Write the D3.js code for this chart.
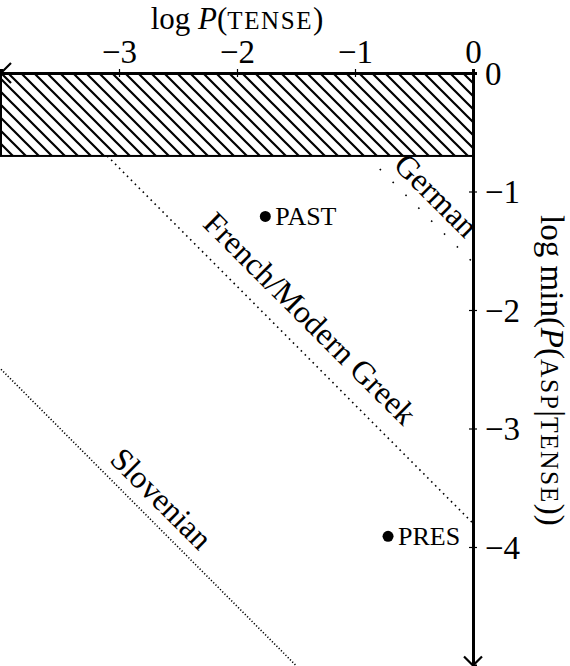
<!DOCTYPE html>
<html>
<head>
<meta charset="utf-8">
<script src="https://cdn.jsdelivr.net/npm/d3@7"></script>
<style>
  html, body { margin: 0; padding: 0; background: #fff; }
  svg { display: block; }
  text { font-family: "Liberation Serif", "DejaVu Serif", serif; fill: #000; }
</style>
</head>
<body>
<svg id="chart" width="570" height="666"></svg>
<script>
// ---- data ----
const xTicks = [-3, -2, -1, 0];
const yTicks = [0, -1, -2, -3, -4];
const xDomain = [-4, 0];
const yDomain = [0, -5];

// excluded (hatched) region
const hatchX = [-4, 0];
const hatchY = [-0.7, 0];

// points
const pointNames = ["PAST", "PRES"];
const pointX = [-1.76, -0.72];
const pointY = [-1.21, -3.91];

// iso-lines: log P(tense) + log min P(asp|tense) = c
const langNames = ["German", "French/Modern Greek", "Slovenian"];
const langConst = [-1.6, -3.8, -6.5];
const langStartX = [-0.79, -3.1, -4];
const langEndX = [0, 0, -1.5];
const langLabelX = [-0.31, -1.38, -2.64];
const langLabelY = [-1.03, -2.07, -3.59];

// ---- scales ----
const svg = d3.select("#chart");
const x = d3.scaleLinear().domain(xDomain).range([1, 473]);
const y = d3.scaleLinear().domain(yDomain).range([73, 665.5]);
const fmt = d3.format("d");

// hatch pattern
const defs = svg.append("defs");
const pat = defs.append("pattern")
  .attr("id", "hatch").attr("patternUnits", "userSpaceOnUse")
  .attr("width", 13).attr("height", 13);
pat.append("path")
  .attr("d", "M-3,-3 L16,16 M-3,10 L3,16 M10,-3 L16,3")
  .attr("stroke", "#000").attr("stroke-width", 2.2);

svg.append("rect")
  .attr("x", x(hatchX[0])).attr("y", y(hatchY[1]))
  .attr("width", x(hatchX[1]) - x(hatchX[0]))
  .attr("height", y(hatchY[0]) - y(hatchY[1]))
  .attr("fill", "url(#hatch)")
  .attr("stroke", "#000").attr("stroke-width", 2);

// iso lines
const dashes = ["1.6,16.6", "1.6,4", "1.2,2"];
langNames.forEach((name, i) => {
  svg.append("line")
    .attr("x1", x(langStartX[i])).attr("y1", y(langConst[i] - langStartX[i]))
    .attr("x2", x(langEndX[i])).attr("y2", y(langConst[i] - langEndX[i]))
    .attr("stroke", "#000").attr("stroke-width", 1.6)
    .attr("stroke-dasharray", dashes[i]);
  svg.append("text")
    .attr("transform", `translate(${x(langLabelX[i])},${y(langLabelY[i])}) rotate(45)`)
    .attr("text-anchor", "middle")
    .attr("dominant-baseline", "central")
    .attr("font-size", 32)
    .text(name);
});

// points
pointNames.forEach((name, i) => {
  svg.append("circle")
    .attr("cx", x(pointX[i])).attr("cy", y(pointY[i])).attr("r", 5.5)
    .attr("fill", "#000");
  svg.append("text")
    .attr("x", x(pointX[i]) + 10).attr("y", y(pointY[i]) + 8.5)
    .attr("font-size", 26)
    .text(name);
});

// axes
const xAxis = svg.append("g").attr("transform", `translate(0,${y(0)})`)
  .call(d3.axisTop(x).tickValues(xTicks).tickFormat(fmt).tickSizeOuter(0).tickSize(4));
xAxis.select(".domain").attr("stroke-width", 3);
xAxis.selectAll(".tick line").attr("y1", 4).attr("y2", -4).attr("stroke-width", 1.2);
xAxis.selectAll(".tick text").attr("font-size", 33)
  .attr("font-family", "Liberation Serif").attr("dy", 0).attr("y", -10);

const yAxis = svg.append("g").attr("transform", `translate(${x(0)},0)`)
  .call(d3.axisRight(y).tickValues(yTicks).tickFormat(fmt).tickSizeOuter(0).tickSize(4));
yAxis.select(".domain").attr("stroke-width", 3);
yAxis.selectAll(".tick line").attr("x1", -4).attr("x2", 4).attr("stroke-width", 1.2);
yAxis.selectAll(".tick text").attr("font-size", 33)
  .attr("font-family", "Liberation Serif").attr("x", 12).attr("dy", "0.34em");

// arrowheads
const x0 = x(xDomain[0]), yA = y(0);
svg.append("path")
  .attr("d", `M${x0 + 10},${yA - 10} Q${x0 + 4},${yA - 4} ${x0},${yA} Q${x0 + 4},${yA + 4} ${x0 + 10},${yA + 10}`)
  .attr("fill", "none").attr("stroke", "#000").attr("stroke-width", 2.2);
const xA = x(0), yEnd = y(yDomain[1]);
svg.append("path")
  .attr("d", `M${xA - 9},${yEnd - 9} Q${xA - 4},${yEnd - 4} ${xA},${yEnd} Q${xA + 4},${yEnd - 4} ${xA + 9},${yEnd - 9}`)
  .attr("fill", "none").attr("stroke", "#000").attr("stroke-width", 2.2);

// axis titles
const xt = svg.append("text")
  .attr("x", x(-2)).attr("y", 29).attr("text-anchor", "middle").attr("font-size", 31);
xt.append("tspan").text("log ");
xt.append("tspan").attr("font-style", "italic").text("P");
xt.append("tspan").text("(");
xt.append("tspan").attr("font-size", 25).attr("letter-spacing", 1.6).text("TENSE");
xt.append("tspan").text(")");

const yt = svg.append("text")
  .attr("transform", `translate(541,${y(-2.51)}) rotate(90)`)
  .attr("text-anchor", "middle").attr("font-size", 33);
yt.append("tspan").text("log min(");
yt.append("tspan").attr("font-style", "italic").text("P");
yt.append("tspan").text("(");
yt.append("tspan").attr("font-size", 25.5).attr("letter-spacing", 1.5).text("ASP");
yt.append("tspan").text("|");
yt.append("tspan").attr("font-size", 25.5).attr("letter-spacing", 1.5).text("TENSE");
yt.append("tspan").text("))");
</script>
</body>
</html>
